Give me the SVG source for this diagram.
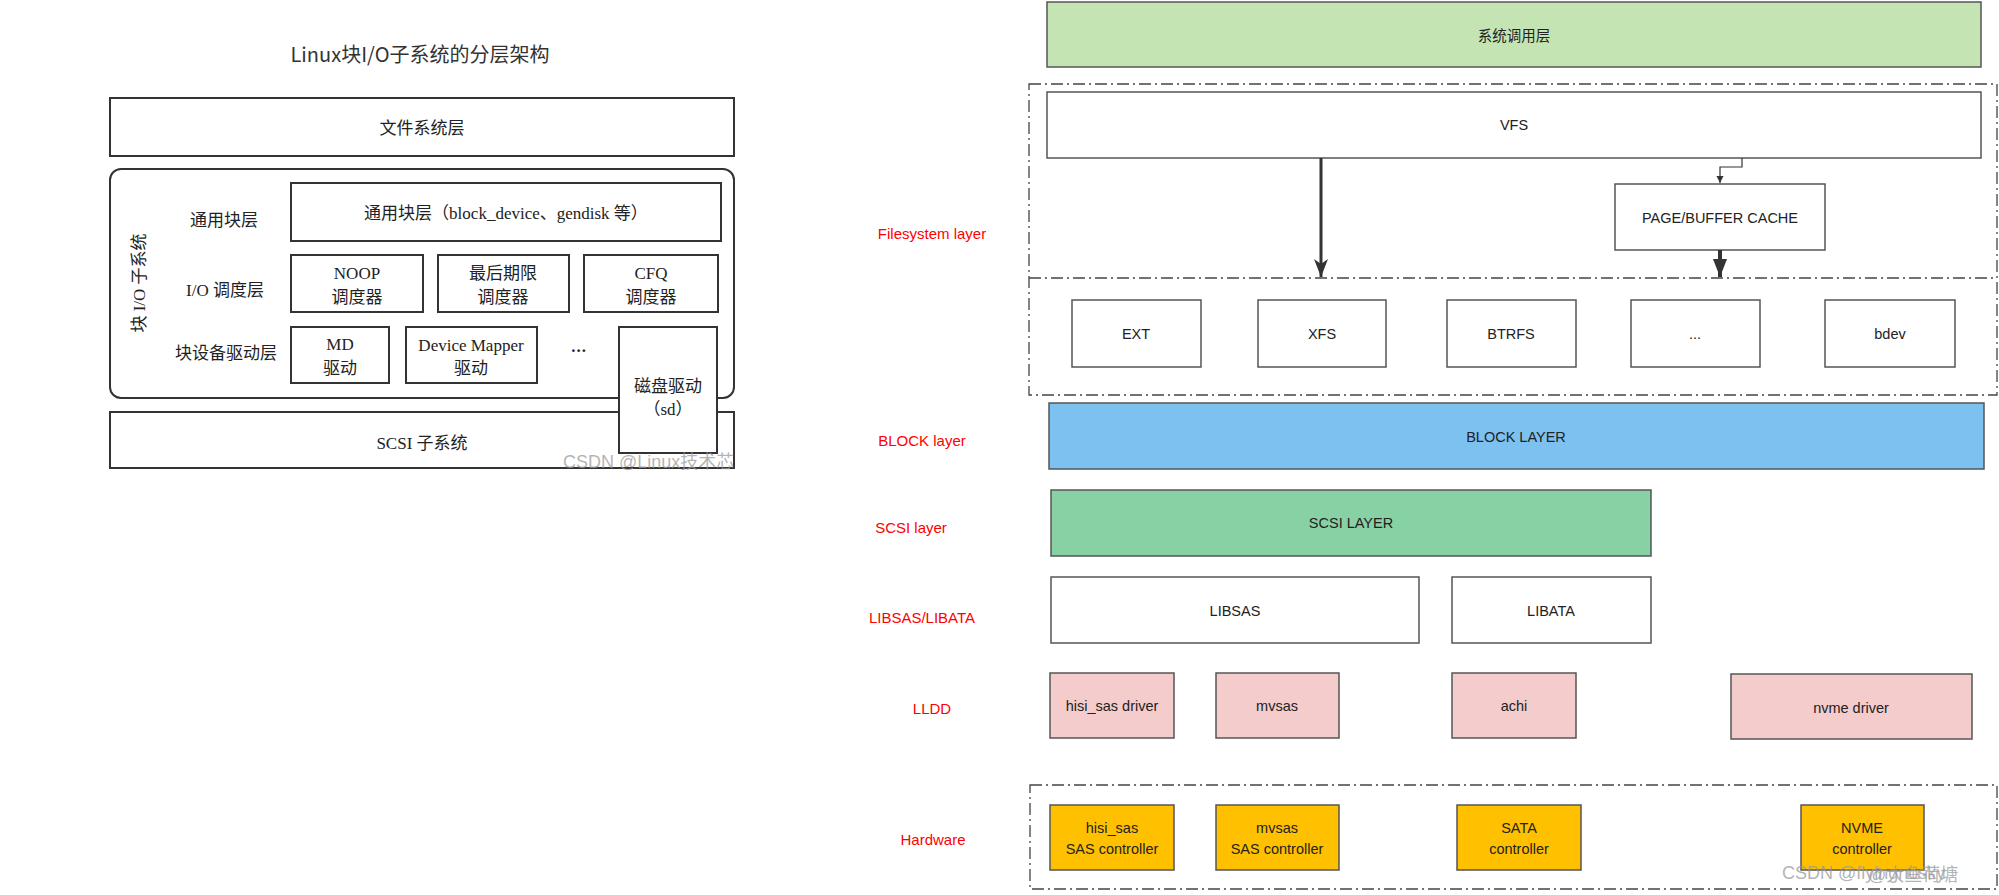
<svg xmlns="http://www.w3.org/2000/svg" width="1999" height="895" viewBox="0 0 1999 895">
<style>
.bg{fill:#ffffff}
.lb{fill:#ffffff;stroke:#333;stroke-width:2}
.lt{font-family:"Liberation Serif","Noto Sans CJK SC",serif;font-size:17px;fill:#222;text-anchor:middle;dominant-baseline:central}
.rb{fill:#ffffff;stroke:#555;stroke-width:1.5}
.rt{font-family:"Liberation Sans","Noto Sans CJK SC",sans-serif;font-size:14.5px;fill:#222;text-anchor:middle;dominant-baseline:central}
.red{font-family:"Liberation Sans",sans-serif;font-size:15px;fill:#ff0000;text-anchor:middle;dominant-baseline:central}
.dd{fill:none;stroke:#444;stroke-width:1.3;stroke-dasharray:12 4 2 4}
.g1{fill:#c5e4b3}
.blue{fill:#7dc1f1}
.g2{fill:#88d1a4}
.pink{fill:#f4cccc}
.yel{fill:#ffc000}
.wm{font-family:"Liberation Sans","Noto Sans CJK SC",sans-serif;font-size:18px;fill:#9a9a9a;fill-opacity:0.75;dominant-baseline:central}
</style>
<defs>
<marker id="ah1" markerUnits="userSpaceOnUse" viewBox="0 -8 20 16" refX="18" refY="0" markerWidth="20" markerHeight="16" orient="auto">
<path d="M0,-7 L18,0 L0,7 L5,0 z" fill="#333"/>
</marker>
<marker id="ah2" markerUnits="userSpaceOnUse" viewBox="0 -8 20 16" refX="18" refY="0" markerWidth="20" markerHeight="16" orient="auto">
<path d="M0,-7 L18,0 L0,7 z" fill="#333"/>
</marker>
<marker id="ah3" markerUnits="userSpaceOnUse" viewBox="0 -4 8 8" refX="7" refY="0" markerWidth="8" markerHeight="8" orient="auto">
<path d="M0,-3.5 L7,0 L0,3.5 z" fill="#333"/>
</marker>
</defs>
<rect class="bg" x="0" y="0" width="1999" height="895"/>

<!-- Left diagram -->
<text id="left-title" x="420" y="53" font-family="'Noto Sans CJK SC','Liberation Sans',sans-serif" font-size="20" fill="#333" text-anchor="middle" dominant-baseline="central">Linux块I/O子系统的分层架构</text>

<g id="fs-layer"><rect class="lb" x="110" y="98" width="624" height="58"/><text class="lt" x="422" y="128" font-size="18">文件系统层</text></g>
<g id="block-io-subsystem"><rect class="lb" x="110" y="169" width="624" height="229" rx="11"/>
<text class="lt" x="139" y="283" transform="rotate(-90 139 283)">块 I/O 子系统</text>
<text class="lt" x="224" y="220">通用块层</text>
<text class="lt" x="225" y="290">I/O 调度层</text>
<text class="lt" x="226" y="353">块设备驱动层</text></g>
<g id="generic-block"><rect class="lb" x="291" y="183" width="430" height="58"/><text class="lt" x="506" y="213">通用块层（block_device、gendisk 等）</text></g>
<g id="noop"><rect class="lb" x="291" y="255" width="132" height="57"/><text class="lt" x="357" y="273">NOOP</text><text class="lt" x="357" y="297">调度器</text></g>
<g id="deadline"><rect class="lb" x="438" y="255" width="131" height="57"/><text class="lt" x="503" y="273">最后期限</text><text class="lt" x="503" y="297">调度器</text></g>
<g id="cfq"><rect class="lb" x="584" y="255" width="134" height="57"/><text class="lt" x="651" y="273">CFQ</text><text class="lt" x="651" y="297">调度器</text></g>
<g id="md"><rect class="lb" x="291" y="327" width="98" height="56"/><text class="lt" x="340" y="344">MD</text><text class="lt" x="340" y="368">驱动</text></g>
<g id="dm"><rect class="lb" x="406" y="327" width="131" height="56"/><text class="lt" x="471" y="345">Device Mapper</text><text class="lt" x="471" y="368">驱动</text></g>
<g id="dots"><text class="lt" x="579" y="346" font-weight="bold" font-size="30" letter-spacing="1">...</text></g>
<g id="scsi-sub"><rect class="lb" x="110" y="412" width="624" height="56"/><text class="lt" x="422" y="443">SCSI 子系统</text></g>
<g id="disk-driver"><rect class="lb" x="619" y="327" width="98" height="126"/><text class="lt" x="668" y="386">磁盘驱动</text><text class="lt" x="668" y="409">（sd）</text></g>
<text class="wm" x="563" y="462" font-size="17">CSDN @Linux技术芯</text>

<!-- Red layer labels -->
<g id="labels">
<text class="red" x="932" y="233">Filesystem layer</text>
<text class="red" x="922" y="440">BLOCK layer</text>
<text class="red" x="911" y="527">SCSI layer</text>
<text class="red" x="922" y="617">LIBSAS/LIBATA</text>
<text class="red" x="932" y="708">LLDD</text>
<text class="red" x="933" y="839">Hardware</text>
</g>

<!-- Right diagram -->
<g id="syscall"><rect class="rb g1" x="1047" y="2" width="934" height="65"/><text class="rt" x="1514" y="36">系统调用层</text></g>
<g id="fs-region"><rect class="dd" x="1029" y="84" width="968" height="311"/><line class="dd" x1="1029" y1="278" x2="1997" y2="278"/></g>
<g id="vfs"><rect class="rb" x="1047" y="92" width="934" height="66"/><text class="rt" x="1514" y="125">VFS</text></g>
<g id="page-cache"><rect class="rb" x="1615" y="184" width="210" height="66"/><text class="rt" x="1720" y="218">PAGE/BUFFER CACHE</text></g>
<g id="ext"><rect class="rb" x="1072" y="300" width="129" height="67"/><text class="rt" x="1136" y="334">EXT</text></g>
<g id="xfs"><rect class="rb" x="1258" y="300" width="128" height="67"/><text class="rt" x="1322" y="334">XFS</text></g>
<g id="btrfs"><rect class="rb" x="1447" y="300" width="129" height="67"/><text class="rt" x="1511" y="334">BTRFS</text></g>
<g id="fs-more"><rect class="rb" x="1631" y="300" width="129" height="67"/><text class="rt" x="1695" y="334">...</text></g>
<g id="bdev"><rect class="rb" x="1825" y="300" width="130" height="67"/><text class="rt" x="1890" y="334">bdev</text></g>
<g id="block-layer"><rect class="rb blue" x="1049" y="403" width="935" height="66"/><text class="rt" x="1516" y="437">BLOCK LAYER</text></g>
<g id="scsi-layer"><rect class="rb g2" x="1051" y="490" width="600" height="66"/><text class="rt" x="1351" y="523">SCSI LAYER</text></g>
<g id="libsas"><rect class="rb" x="1051" y="577" width="368" height="66"/><text class="rt" x="1235" y="611">LIBSAS</text></g>
<g id="libata"><rect class="rb" x="1452" y="577" width="199" height="66"/><text class="rt" x="1551" y="611">LIBATA</text></g>
<g id="hisi-drv"><rect class="rb pink" x="1050" y="673" width="124" height="65"/><text class="rt" x="1112" y="706">hisi_sas driver</text></g>
<g id="mvsas-drv"><rect class="rb pink" x="1216" y="673" width="123" height="65"/><text class="rt" x="1277" y="706">mvsas</text></g>
<g id="achi"><rect class="rb pink" x="1452" y="673" width="124" height="65"/><text class="rt" x="1514" y="706">achi</text></g>
<g id="nvme-drv"><rect class="rb pink" x="1731" y="674" width="241" height="65"/><text class="rt" x="1851" y="708">nvme driver</text></g>
<g id="hw-region"><rect class="dd" x="1030" y="785" width="967" height="104"/></g>
<g id="hisi-ctl"><rect class="rb yel" x="1050" y="805" width="124" height="65"/><text class="rt" x="1112" y="828">hisi_sas</text><text class="rt" x="1112" y="849">SAS controller</text></g>
<g id="mvsas-ctl"><rect class="rb yel" x="1216" y="805" width="123" height="65"/><text class="rt" x="1277" y="828">mvsas</text><text class="rt" x="1277" y="849">SAS controller</text></g>
<g id="sata-ctl"><rect class="rb yel" x="1457" y="805" width="124" height="65"/><text class="rt" x="1519" y="828">SATA</text><text class="rt" x="1519" y="849">controller</text></g>
<g id="nvme-ctl"><rect class="rb yel" x="1801" y="805" width="123" height="65"/><text class="rt" x="1862" y="828">NVME</text><text class="rt" x="1862" y="849">controller</text></g>

<g id="connectors" fill="none" stroke="#333">
<line x1="1321" y1="158" x2="1321" y2="277" stroke-width="3" marker-end="url(#ah1)"/>
<line x1="1720" y1="250" x2="1720" y2="277" stroke-width="4" marker-end="url(#ah2)"/>
<path d="M1742,158 V167 H1720 V183" stroke-width="1.2" marker-end="url(#ah3)"/>
</g>

<text class="wm" x="1782" y="873">CSDN @flyingnosky</text>
<text class="wm" x="1868" y="875">@大鱼荷塘</text>
</svg>
